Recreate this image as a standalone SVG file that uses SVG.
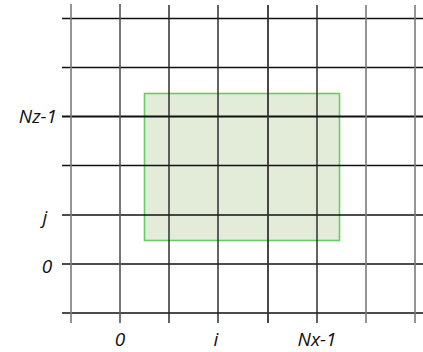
<svg xmlns="http://www.w3.org/2000/svg" width="423" height="352" viewBox="0 0 423 352">
<style>
.h{stroke:#111;stroke-width:1.4}
.vg{stroke:#7a7a7a;stroke-width:1.6}
.vd{stroke:#222;stroke-width:1.4}
.lbl{font-family:"Open Sans","Liberation Sans",sans-serif;font-style:italic;font-size:19px;fill:#111}
</style>
<rect width="423" height="352" fill="#fff"/>
<g id="region">
<rect x="144.5" y="93.5" width="195" height="147" fill="#e2ecd9" stroke="#66cc66" stroke-width="1.6"/>
</g>
<g id="grid">
<line class="h" x1="62" y1="18.5" x2="423" y2="18.5"/>
<line class="h" x1="62" y1="67.5" x2="423" y2="67.5"/>
<line class="h" x1="62" y1="116.5" x2="423" y2="116.5" style="stroke-width:2"/>
<line class="h" x1="62" y1="165.5" x2="423" y2="165.5"/>
<line class="h" x1="62" y1="215" x2="423" y2="215"/>
<line class="h" x1="62" y1="264" x2="423" y2="264"/>
<line class="h" x1="62" y1="313" x2="423" y2="313"/>
<line class="vg" x1="71" y1="4" x2="71" y2="323"/>
<line class="vg" x1="120" y1="4" x2="120" y2="323" style="stroke:#555"/>
<line class="vd" x1="169" y1="5" x2="169" y2="323"/>
<line class="vd" x1="218" y1="5" x2="218" y2="323"/>
<line class="vd" x1="268" y1="5" x2="268" y2="323" style="stroke:#333;stroke-width:1.8"/>
<line class="vd" x1="317" y1="5" x2="317" y2="323"/>
<line class="vg" x1="366" y1="5" x2="366" y2="323"/>
<line class="vg" x1="415" y1="5" x2="415" y2="323"/>
</g>
<g id="labels">
<text class="lbl" x="57" y="123" text-anchor="end">Nz-1</text>
<text class="lbl" x="45" y="224" text-anchor="middle">j</text>
<text class="lbl" x="47" y="273" text-anchor="middle">0</text>
<text class="lbl" x="120" y="346" text-anchor="middle">0</text>
<text class="lbl" x="216" y="346" text-anchor="middle">i</text>
<text class="lbl" x="317" y="346" text-anchor="middle">Nx-1</text>
</g>
</svg>
